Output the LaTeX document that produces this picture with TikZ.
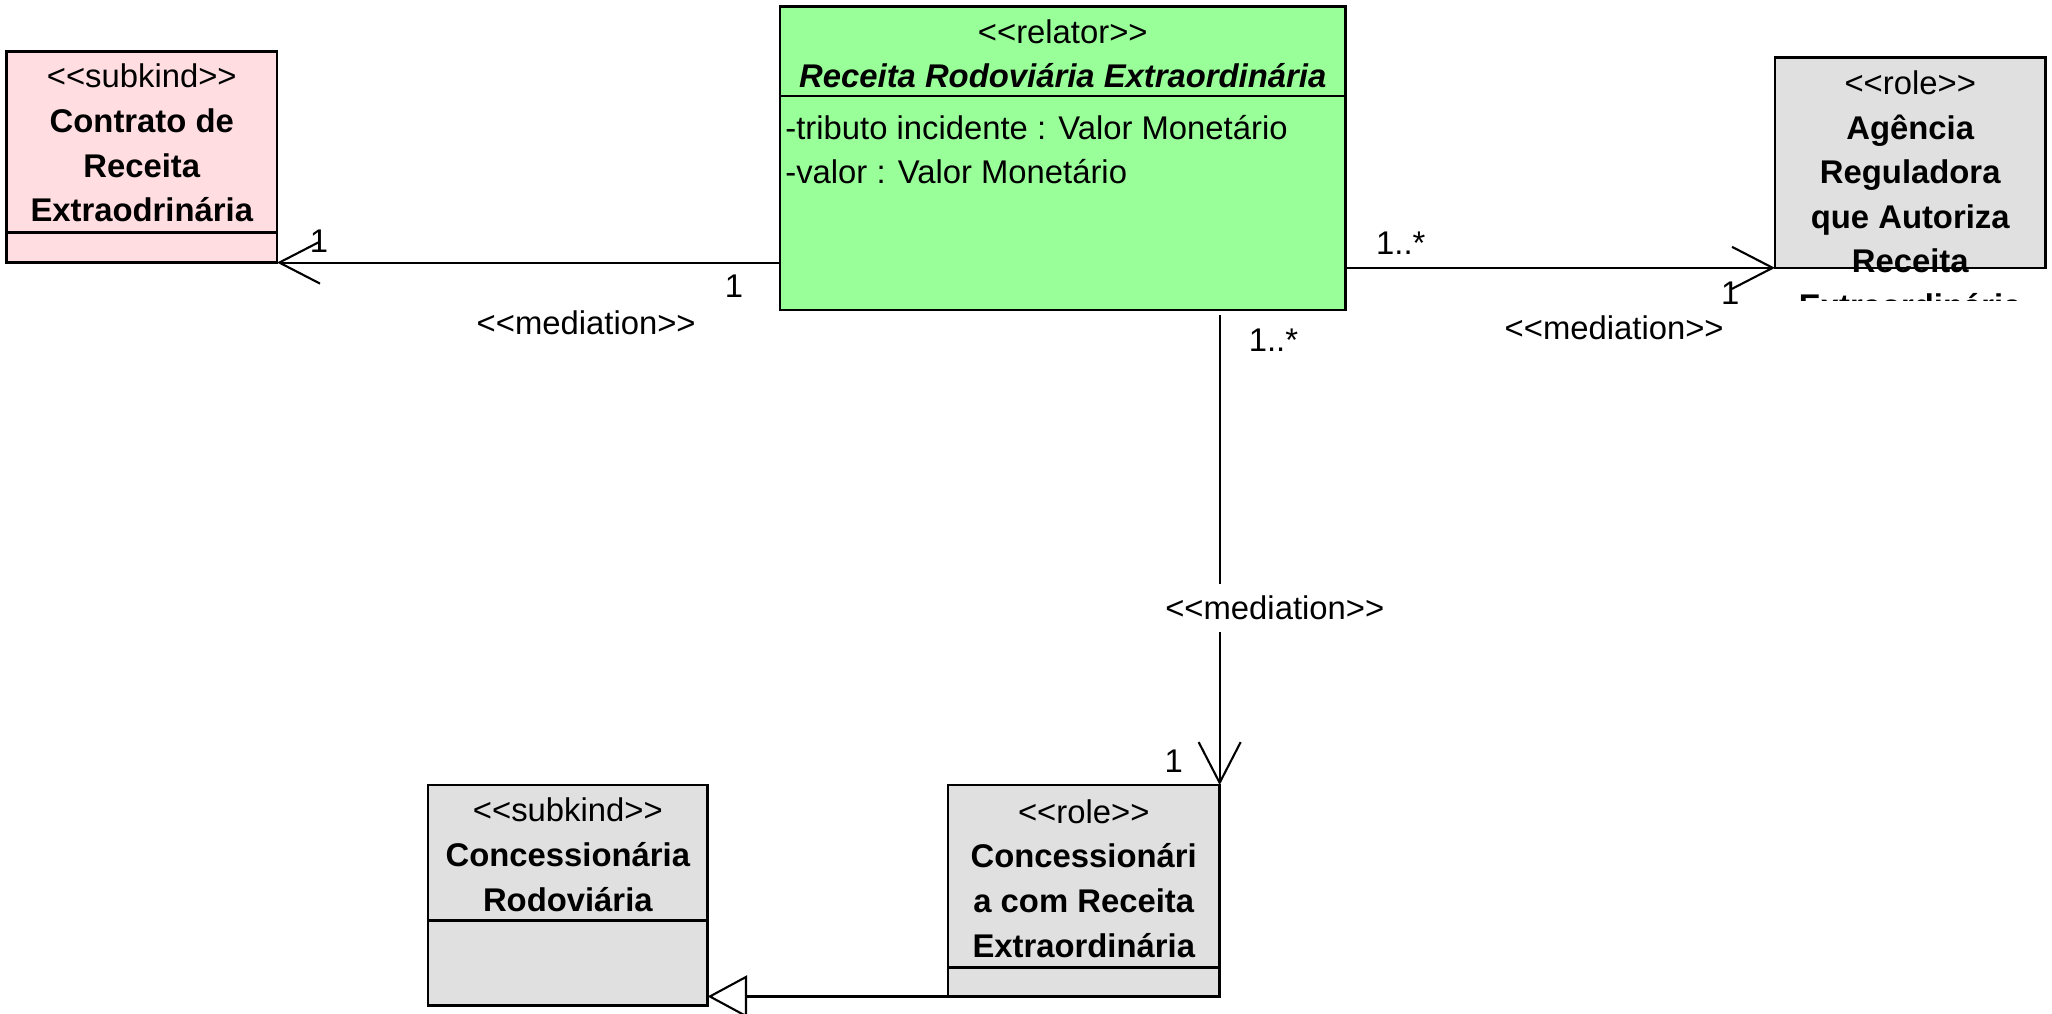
\documentclass[tikz,border=0pt]{standalone}
\usepackage{fontspec}
\setmainfont{Liberation Sans}
\usepackage{tikz}
\usetikzlibrary{arrows.meta, calc}
\definecolor{subkindpink}{RGB}{255,221,224}
\definecolor{relatorgreen}{RGB}{153,255,153}
\definecolor{rolegray}{RGB}{224,224,224}
\tikzstyle{classbox} = [draw=black, line width=2pt, anchor=north west, inner sep=0pt, outer sep=0pt]
\tikzstyle{classtext} = [align=center, inner sep=0pt, font=\fontsize{25}{34}\selectfont\bfseries]
\tikzstyle{attrtext} = [align=left, anchor=west, inner sep=0pt, font=\fontsize{25}{34}\selectfont]
\tikzstyle{lbl} = [inner sep=0pt, font=\fontsize{25}{34}\selectfont]
\tikzstyle{mediation} = [line width=1.6pt, -{Straight Barb[length=31pt, width=32pt]}]
\tikzstyle{generalization} = [line width=1.6pt, -{Triangle[open, length=30pt, width=32pt]}]
\newcommand{\stereo}[1]{{\mdseries<{}<#1>{}>}}

\begin{document}
\begin{tikzpicture}[x=1pt, y=-1pt]
\useasboundingbox (0,0) rectangle (1563,772);

%class Contrato de Receita Extraodrinaria
\node[classbox, fill=subkindpink, minimum width=206pt, minimum height=161pt] (contrato) at (5,39) {};
\draw[line width=2pt] (contrato.west |- 0,177) -- (contrato.east |- 0,177);
\node[classtext] (contrato-name) at ($(contrato.north)+(0,70)$) {\stereo{subkind}\\Contrato de\\Receita\\Extraodrinária};

%class Receita Rodoviaria Extraordinaria
\node[classbox, fill=relatorgreen, minimum width=431pt, minimum height=231pt] (relator) at (594,5) {};
\draw[line width=2pt] (relator.west |- 0,73) -- (relator.east |- 0,73);
\node[classtext] (relator-name) at ($(relator.north)+(0,36)$) {\stereo{relator}\\\textit{Receita Rodoviária Extraordinária}};
\node[attrtext, xshift=4pt] (relator-attr) at (relator.west |- 0,114) {-tributo incidente : Valor Monetário\\-valor : Valor Monetário};

%class Agencia Reguladora
\node[classbox, fill=rolegray, minimum width=206pt, minimum height=160pt] (agencia) at (1352,44) {};
\begin{scope}
\clip (agencia.north west) rectangle ($(agencia.south east)+(0,25)$);
\node[classtext] (agencia-name) at ($(agencia.north)+(0,104)$) {\stereo{role}\\Agência\\Reguladora\\que Autoriza\\Receita\\Extraordinária};
\end{scope}

%class Concessionaria Rodoviaria
\node[classbox, fill=rolegray, minimum width=213pt, minimum height=168pt] (concessionaria) at (326,598) {};
\draw[line width=2pt] (concessionaria.west |- 0,701) -- (concessionaria.east |- 0,701);
\node[classtext] (concessionaria-name) at ($(concessionaria.north)+(0,53)$) {\stereo{subkind}\\Concessionária\\Rodoviária};

%class Concessionaria com Receita Extraordinaria
\node[classbox, fill=rolegray, minimum width=207pt, minimum height=161pt] (papel) at (722,598) {};
\draw[line width=2pt] (papel.west |- 0,737) -- (papel.east |- 0,737);
\node[classtext] (papel-name) at ($(papel.north)+(0,71)$) {\stereo{role}\\Concessionári\\a com Receita\\Extraordinária};

%mediations
\draw[mediation] (relator.west |- contrato.south) -- (contrato.south east)
  node[lbl, at start, xshift=-35pt, yshift=-18pt] {1}
  node[lbl, at end, xshift=32pt, yshift=16pt] {1}
  node[lbl, midway, xshift=44pt, yshift=-46pt] {\stereo{mediation}};
\draw[mediation] (relator.east |- agencia.south west) -- (agencia.south west)
  node[lbl, at start, xshift=42pt, yshift=19pt] {1..*}
  node[lbl, at end, xshift=-34pt, yshift=-19pt] {1}
  node[lbl, midway, xshift=41pt, yshift=-46pt] {\stereo{mediation}};
\draw[mediation, shorten <=4pt] (relator.south -| papel.north east) -- (papel.north east)
  node[lbl, at start, xshift=41pt, yshift=-23pt] {1..*}
  node[lbl, at end, xshift=-35pt, yshift=18pt] {1}
  node[lbl, pos=.627, xshift=42pt, fill=white, inner ysep=9pt] {\stereo{mediation}};

%generalization
\draw[generalization] (papel.south west) -- (papel.south west -| concessionaria.east);

\end{tikzpicture}
\end{document}
